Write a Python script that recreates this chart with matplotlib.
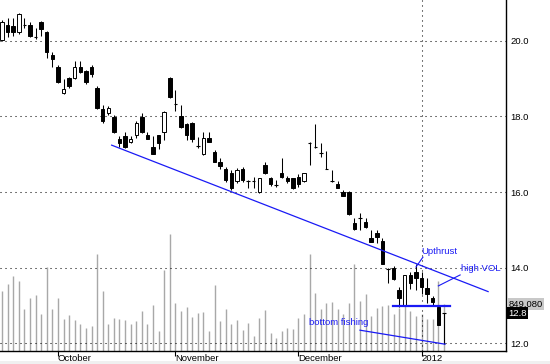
import matplotlib
matplotlib.use("Agg")
import matplotlib.pyplot as plt
from matplotlib.patches import Rectangle
from matplotlib.transforms import blended_transform_factory

plt.rcParams.update({
    "font.family": "Liberation Sans",
    "font.size": 6.8,
})

# ------------------------------------------------------------
# daily bars, volume in thousands
# ------------------------------------------------------------
OPEN = [
    20.02, 20.41, 20.40, 20.23, 20.44, 20.41, 20.12, 20.49, 20.23, 19.62,
    19.30, 18.62, 19.01, 19.01, 19.30, 19.20, 19.30, 18.75, 18.19, 18.09,
    17.98, 17.40, 17.48, 17.32, 17.50, 17.98, 17.50, 17.19, 17.50, 17.59,
    19.01, 18.35, 18.01, 17.80, 17.83, 17.24, 17.00, 17.42, 17.05, 16.79,
    16.60, 16.50, 16.29, 16.60, 16.32, 16.30, 16.00, 16.71, 16.37, 16.20,
    16.50, 16.37, 16.37, 16.40, 16.29, 17.31, 17.20, 17.05, 16.62, 16.30,
    16.21, 16.00, 16.00, 15.18, 15.32, 15.21, 14.78, 14.91, 14.71, 13.99,
    13.99, 13.41, 13.00, 13.80, 13.88, 13.72, 13.46, 13.20, 12.96, 12.78]

HIGH = [
    20.55, 20.60, 20.60, 20.73, 20.60, 20.49, 20.33, 20.52, 20.25, 19.70,
    19.36, 18.98, 19.03, 19.46, 19.46, 19.22, 19.36, 18.80, 18.30, 18.27,
    18.04, 17.48, 17.59, 17.48, 17.87, 18.09, 17.59, 17.48, 17.52, 18.13,
    19.03, 18.69, 18.30, 17.83, 17.85, 17.45, 17.59, 17.59, 17.11, 16.90,
    16.66, 16.58, 16.63, 16.66, 16.32, 16.40, 16.37, 16.79, 16.40, 16.32,
    16.90, 16.42, 16.38, 16.48, 16.50, 17.32, 17.80, 17.29, 17.08, 16.58,
    16.29, 16.05, 16.02, 15.31, 15.44, 15.31, 15.00, 15.00, 14.79, 13.99,
    14.04, 13.49, 13.80, 13.90, 14.09, 13.88, 13.72, 13.25, 13.01, 12.80]

LOW = [
    19.98, 20.10, 20.12, 20.17, 20.34, 20.10, 20.05, 20.12, 19.54, 19.30,
    18.88, 18.60, 18.75, 18.99, 19.14, 18.85, 19.04, 18.19, 17.82, 18.04,
    17.56, 17.19, 17.16, 17.30, 17.43, 17.56, 17.40, 17.00, 17.13, 17.37,
    18.49, 18.14, 17.70, 17.37, 17.32, 17.16, 16.98, 17.32, 16.79, 16.61,
    16.27, 16.05, 16.24, 16.27, 16.10, 16.10, 15.98, 16.47, 16.16, 16.13,
    16.37, 16.24, 16.08, 16.13, 16.27, 16.71, 17.16, 16.92, 16.60, 16.27,
    16.10, 15.89, 15.39, 15.00, 15.00, 15.05, 14.68, 14.65, 14.09, 13.59,
    13.67, 12.96, 13.00, 13.43, 13.41, 13.30, 13.06, 12.98, 12.48, 11.98]

CLOSE = [
    20.49, 20.23, 20.22, 20.70, 20.41, 20.12, 20.10, 20.31, 19.70, 19.52,
    18.90, 18.72, 18.80, 19.30, 19.17, 18.91, 19.12, 18.22, 17.87, 18.22,
    17.59, 17.30, 17.19, 17.40, 17.82, 17.59, 17.40, 17.00, 17.30, 18.11,
    18.51, 18.33, 17.72, 17.50, 17.40, 17.21, 17.42, 17.32, 16.79, 16.69,
    16.31, 16.10, 16.58, 16.31, 16.30, 16.29, 16.37, 16.50, 16.21, 16.19,
    16.39, 16.29, 16.10, 16.21, 16.50, 17.30, 17.19, 17.03, 16.61, 16.29,
    16.10, 15.89, 15.42, 15.02, 15.31, 15.07, 14.68, 14.81, 14.09, 13.97,
    13.70, 13.20, 13.80, 13.59, 13.72, 13.49, 13.30, 13.10, 12.48, 12.80]

VOLUME = [
    1084, 1211, 1355, 1265, 759, 958, 1012, 669, 1518, 759,
    958, 578, 651, 560, 488, 416, 452, 1753, 1084, 488,
    596, 578, 560, 488, 542, 723, 488, 831, 361, 1464,
    2114, 867, 723, 795, 614, 687, 705, 361, 1193, 542,
    759, 488, 560, 379, 506, 271, 596, 741, 325, 235,
    361, 416, 398, 596, 669, 1753, 1048, 759, 867, 885,
    759, 669, 867, 1572, 904, 1030, 632, 777, 813, 831,
    669, 777, 1355, 723, 632, 669, 578, 578, 1265, 849.08]

MONTH_START = [10, 31, 53, 75]          # bar index of first session
MONTH_LABELS = ["October", "November", "December", "2012"]
PRICE_TICKS = [12.0, 14.0, 16.0, 18.0, 20.0]

BLUE = "#1a1af5"
DOTS = (1, 3.8)

# ------------------------------------------------------------
# figure / axes
# ------------------------------------------------------------
fig = plt.figure(figsize=(5.5, 3.64), dpi=100)
fig.add_artist(Rectangle((0, 0), 1, 3 / 364, transform=fig.transFigure,
                         facecolor="#f0f0f0", edgecolor="none", zorder=-1))
pos = [0.0, 13 / 364, 506 / 550, 351 / 364]

ax_vol = fig.add_axes(pos)
ax = ax_vol.twinx()

n = len(CLOSE)
xs = list(range(n))

# volume
ax_vol.vlines(xs, 0, VOLUME, color="#a8a8a8", lw=1.0)
ax_vol.set_ylim(0, 6340)
ax_vol.set_xlim(-0.36, 90.1)
ax_vol.set_yticks([])
for s in ["top", "left", "right"]:
    ax_vol.spines[s].set_visible(False)
ax_vol.spines["bottom"].set_linewidth(1.0)

ax_vol.set_xticks(MONTH_START, MONTH_LABELS, ha="left")
ax_vol.tick_params(axis="x", length=3.5, width=0.8, pad=-1, colors="black")

# price
ax.set_ylim(11.80, 21.076)
for s in ["top", "left", "bottom"]:
    ax.spines[s].set_visible(False)
ax.spines["right"].set_linewidth(1.0)
ax.set_yticks(PRICE_TICKS, [f"{p:.1f}" for p in PRICE_TICKS])
ax.tick_params(axis="y", length=0, pad=3)

for p in PRICE_TICKS:
    ax.axhline(p, color="black", lw=0.75, dashes=DOTS, zorder=1)
ax.axvline(MONTH_START[-1], color="black", lw=0.75, dashes=DOTS, zorder=1)

# candles
w = 0.62
for i in xs:
    o, h, l, c = OPEN[i], HIGH[i], LOW[i], CLOSE[i]
    ax.vlines(i, l, h, color="black", lw=0.75, zorder=3)
    if abs(c - o) < 0.04:
        ax.hlines(c, i - w / 2, i + w / 2, color="black", lw=0.8, zorder=4)
    else:
        fc = "white" if c > o else "black"
        ax.add_patch(Rectangle((i - w / 2, min(o, c)), w, abs(c - o),
                               facecolor=fc, edgecolor="black", lw=0.7, zorder=4))

# trend lines
ax.plot([19.6, 86.9], [17.24, 13.37], color=BLUE, lw=0.9, zorder=5)
ax.plot([64.0, 79.2], [12.35, 11.98], color=BLUE, lw=0.9, zorder=5)
ax.plot([69.9, 80.1], [12.98, 12.98], color=BLUE, lw=1.6, zorder=5)

# notes
ax.text(75.0, 14.44, "Upthrust", color=BLUE, ha="left", va="center", zorder=6)
ax.plot([75.25, 74.0], [14.28, 14.02], color=BLUE, lw=0.8, zorder=5)
ax.text(82.0, 13.99, "high VOL", color=BLUE, ha="left", va="center", zorder=6)
ax.plot([81.9, 78.0], [13.81, 13.52], color=BLUE, lw=0.8, zorder=5)
ax.text(54.9, 12.55, "bottom fishing", color=BLUE, ha="left", va="center", zorder=6)

# last value tags
tr_vol = blended_transform_factory(ax.transAxes, ax_vol.transData)
tr_px = blended_transform_factory(ax.transAxes, ax.transData)
ax.text(1.005, VOLUME[-1], f"{VOLUME[-1] * 1000:,.0f}", transform=tr_vol,
        ha="left", va="center", color="black", clip_on=False,
        bbox=dict(boxstyle="square,pad=0.15", fc="#c8c8c8", ec="none"))
ax.text(1.005, CLOSE[-1], f"{CLOSE[-1]:.1f}", transform=tr_px,
        ha="left", va="center", color="white", clip_on=False,
        bbox=dict(boxstyle="square,pad=0.15", fc="black", ec="none"))

fig.savefig("out.png", dpi=100, facecolor="white")
